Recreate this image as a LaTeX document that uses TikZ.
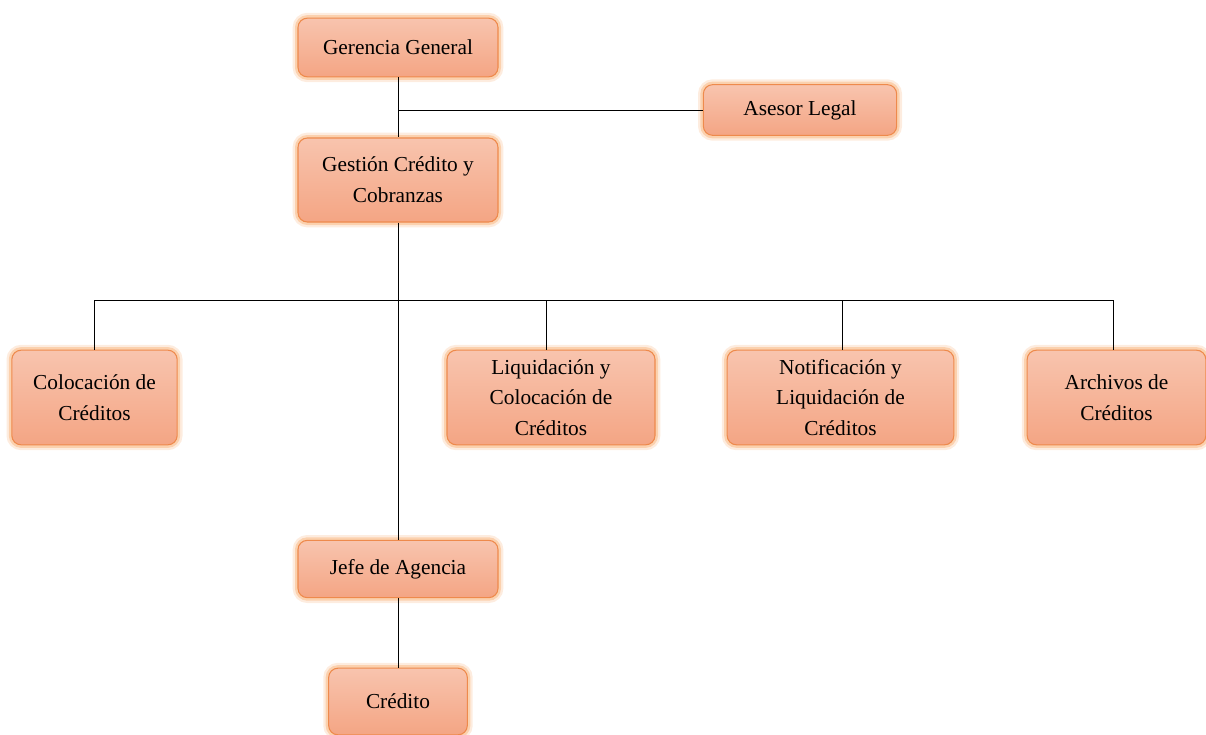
\documentclass[tikz,border=0pt]{standalone}
\usepackage{fontspec}
\setmainfont{Liberation Serif}
\usepackage{xcolor}
\usetikzlibrary{positioning,calc}

\definecolor{boxtop}{HTML}{F8C4AE}
\definecolor{boxbot}{HTML}{F4A584}
\definecolor{boxline}{HTML}{EE8A4C}
\definecolor{glow}{HTML}{F9B57E}

\begin{document}
\begin{tikzpicture}[x=0.75pt, y=-0.75pt,
  unit/.style={rectangle, draw=boxline, line width=0.8pt, top color=boxtop, bottom color=boxbot,
    rounded corners=7pt, align=center, inner sep=2pt, font=\fontsize{16}{23}\selectfont,
    preaction={draw=glow, line width=8pt, opacity=0.25},
    preaction={draw=glow, line width=4.5pt, opacity=0.5}},
  line/.style={draw, black, line width=0.65pt}]

  \useasboundingbox (0,0) rectangle (1206,735);

  % upper levels
  \node [unit, minimum width=150pt, minimum height=44pt] (gerencia) at (398,47.5) {Gerencia General};
  \node [unit, minimum width=145pt, minimum height=38pt] (asesor) at (800,110) {Asesor Legal};
  \node [unit, minimum width=150pt, minimum height=63pt] (gestion) at (398,180) {Gestión Crédito y\\Cobranzas};

  % areas
  \node [unit, minimum width=124pt, minimum height=71pt] (colocacion) at (94.5,397.5) {Colocación de\\Créditos};
  \node [unit, minimum width=156pt, minimum height=71pt] (liquidacion) at (551,397.5) {Liquidación y\\Colocación de\\Créditos};
  \node [unit, minimum width=170pt, minimum height=71pt] (notificacion) at (840.5,397.5) {Notificación y\\Liquidación de\\Créditos};
  \node [unit, minimum width=134pt, minimum height=71pt] (archivos) at (1116.5,397.5) {Archivos de\\Créditos};

  % agencia
  \node [unit, minimum width=150pt, minimum height=43pt] (jefe) at (398,569) {Jefe de Agencia};
  \node [unit, minimum width=104pt, minimum height=50pt] (credito) at (398,701.5) {Crédito};

  \coordinate (busl) at (94.5,300);
  \coordinate (busr) at (1113,300);
  \coordinate (liqtop) at (546,350);
  \coordinate (nottop) at (842,350);

  \path [line] (gerencia) -- (gestion);
  \path [line] (gerencia.south |- asesor.west) -- (asesor.west);
  \path [line] (gestion) -- (jefe);
  \path [line] (jefe) -- (credito);
  \path [line] (busl) -- (busr);
  \path [line] (busl) -- (colocacion.north);
  \path [line] (liqtop |- busl) -- (liqtop);
  \path [line] (nottop |- busl) -- (nottop);
  \path [line] (busr) -- (busr |- archivos.north);
\end{tikzpicture}
\end{document}
